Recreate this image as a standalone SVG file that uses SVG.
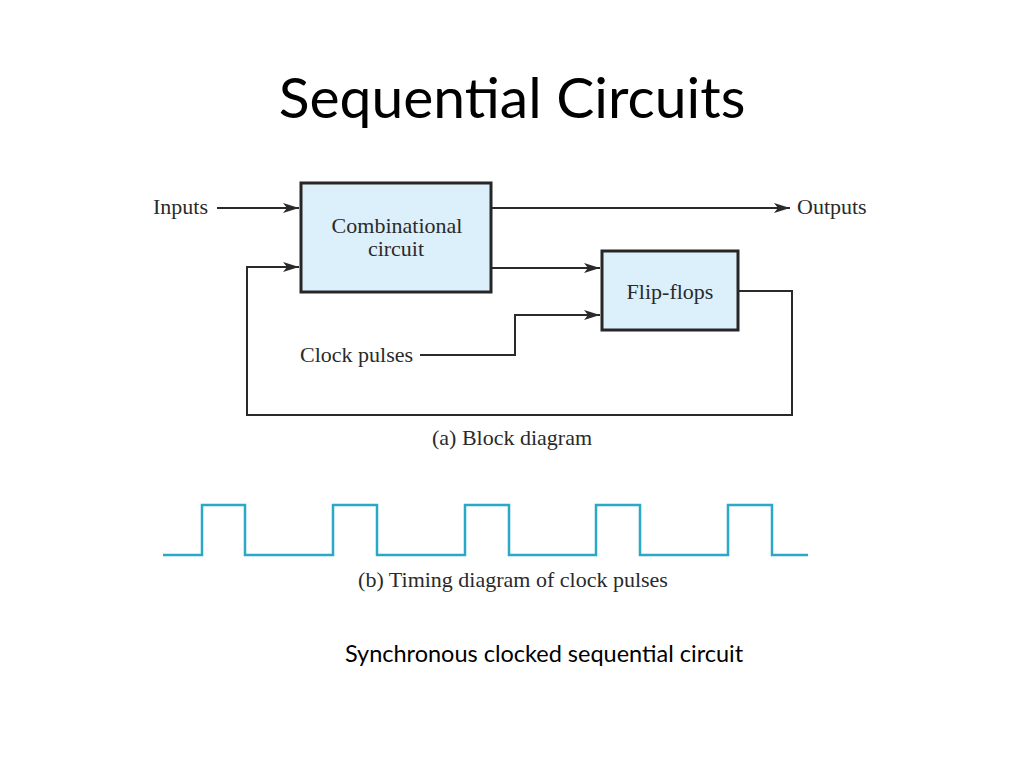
<svg xmlns="http://www.w3.org/2000/svg" width="1024" height="768" viewBox="0 0 1024 768">
<style>
.t{font-family:"Liberation Serif","Times New Roman",serif;font-size:22px;fill:#2a2a2a}
.box{fill:#dcf0fb;stroke:#262626;stroke-width:3}
.w{fill:none;stroke:#2a2a2a;stroke-width:2}
.clk{fill:none;stroke:#2aa8c8;stroke-width:2.5}
</style>
<defs>
<marker id="ah" viewBox="0 0 16 10" refX="16" refY="5" markerWidth="16" markerHeight="10" markerUnits="userSpaceOnUse" orient="auto">
<path d="M0,0 L16,5 L0,10 L4,5 Z" fill="#2a2a2a"/>
</marker>
</defs>
<rect width="1024" height="768" fill="#fff"/>
<text x="512" y="118" text-anchor="middle" font-family="Lato,'Open Sans',sans-serif" font-size="57" fill="#000">Sequential Circuits</text>
<g id="connectors">
<path class="w" d="M217,208 H299" marker-end="url(#ah)"/>
<path class="w" d="M491,208 H790" marker-end="url(#ah)"/>
<path class="w" d="M491,268 H600" marker-end="url(#ah)"/>
<path class="w" d="M420,355 H515 V315 H600" marker-end="url(#ah)"/>
<path class="w" d="M738,291 H792 V415 H247 V267 H299" marker-end="url(#ah)"/>
</g>
<g id="inputs"><text class="t" x="153" y="214">Inputs</text></g>
<g id="outputs"><text class="t" x="797" y="214">Outputs</text></g>
<g id="combinational">
<rect class="box" x="301" y="183" width="190" height="109"/>
<text class="t" x="397" y="233" text-anchor="middle">Combinational</text>
<text class="t" x="396" y="256" text-anchor="middle">circuit</text>
</g>
<g id="flipflops">
<rect class="box" x="602" y="251" width="136" height="79"/>
<text class="t" x="670" y="299" text-anchor="middle">Flip-flops</text>
</g>
<g id="clock"><text class="t" x="300" y="362">Clock pulses</text></g>
<text class="t" x="512" y="445" text-anchor="middle">(a) Block diagram</text>
<g id="timing">
<path class="clk" d="M163,555 H202 V505 H245 V555 H333 V505 H377 V555 H465 V505 H509 V555 H596 V505 H640 V555 H728 V505 H772 V555 H808"/>
</g>
<text class="t" x="513" y="587" text-anchor="middle">(b) Timing diagram of clock pulses</text>
<text x="544" y="662" text-anchor="middle" font-family="Lato,'Open Sans',sans-serif" font-size="23.5" fill="#000">Synchronous clocked sequential circuit</text>
</svg>
